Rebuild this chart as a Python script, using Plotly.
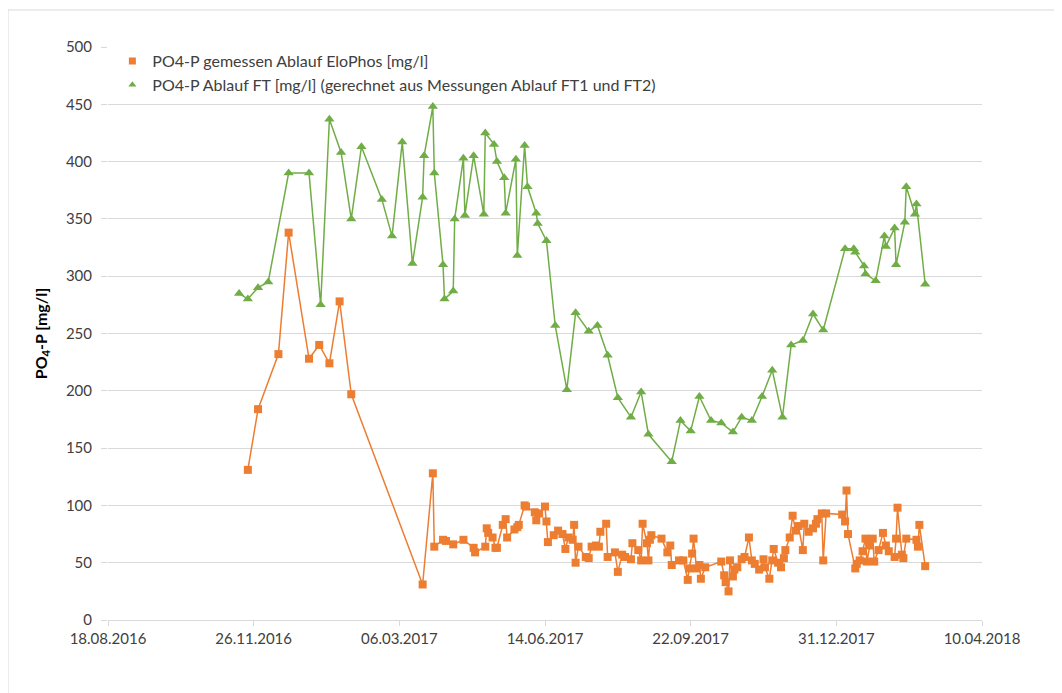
import pandas as pd
import plotly.graph_objects as go

START = "2016-08-18"

# Days since 18.08.2016 and measured values
elophos_days = [96, 103, 117, 124, 138, 145, 152, 159, 167, 216, 223, 224, 230, 232, 237, 244,
                251, 252, 259, 260, 261, 264, 266, 267, 271, 273, 274, 279, 281, 282, 286, 287,
                293, 294, 296, 300, 301, 302, 306, 309, 312, 314, 316, 319, 320, 321, 323, 328,
                330, 332, 335, 337, 338, 342, 343, 348, 350, 353, 355, 359, 360, 364, 366, 367,
                370, 371, 372, 373, 380, 384, 386, 387, 392, 395, 398, 399, 401, 402, 404, 406,
                407, 410, 421, 423, 424, 426, 427, 429, 430, 432, 435, 437, 440, 442, 444, 447,
                450, 451, 454, 456, 457, 460, 462, 464, 465, 468, 470, 472, 474, 477, 478, 481,
                484, 486, 487, 490, 491, 493, 504, 506, 507, 508, 513, 514, 516, 518, 520, 521,
                523, 525, 526, 529, 532, 534, 536, 540, 541, 542, 545, 546, 548, 555, 556, 557, 561]
elophos_vals = [131, 184, 232, 338, 228, 240, 224, 278, 197, 31, 128, 64, 70, 69, 66, 70,
                63, 59, 64, 80, 76, 72, 63, 63, 83, 88, 72, 79, 81, 83, 100, 99,
                94, 87, 93, 99, 86, 68, 74, 78, 75, 62, 72, 70, 83, 50, 64, 55,
                54, 64, 65, 64, 77, 84, 55, 59, 42, 57, 55, 53, 67, 61, 52, 84,
                67, 52, 70, 74, 71, 59, 65, 48, 52, 52, 35, 45, 58, 71, 45, 48,
                36, 46, 51, 39, 33, 25, 52, 38, 44, 46, 53, 55, 72, 52, 49, 44,
                53, 46, 36, 52, 62, 50, 46, 54, 61, 72, 91, 78, 82, 61, 84, 77,
                80, 84, 88, 93, 52, 93, 92, 86, 113, 75, 45, 49, 52, 60, 71, 51,
                65, 71, 51, 61, 76, 65, 60, 55, 71, 98, 57, 54, 71, 70, 64, 83, 47]

ft_days = [90, 96, 103, 110, 124, 138, 146, 152, 160, 167, 174, 188, 195, 202, 209, 216,
           217, 223, 224, 230, 231, 237, 238, 244, 245, 251, 258, 259, 265, 267, 272, 273,
           280, 281, 286, 288, 294, 295, 301, 307, 315, 321, 330, 336, 343, 350, 359, 366,
           371, 387, 393, 400, 406, 414, 421, 429, 435, 442, 449, 456, 463, 469, 477, 484,
           491, 506, 512, 513, 519, 520, 527, 533, 534, 540, 541, 547, 548, 554, 555, 561]
ft_vals = [285, 280, 290, 295, 390, 390, 275, 437, 408, 350, 413, 367, 335, 417, 311, 369,
           405, 448, 390, 310, 280, 287, 350, 403, 353, 405, 354, 425, 415, 400, 386, 355,
           402, 318, 414, 378, 355, 346, 331, 257, 201, 268, 252, 257, 231, 194, 177, 199,
           162, 138, 174, 165, 195, 174, 172, 164, 177, 174, 195, 218, 177, 240, 244, 267,
           253, 324, 324, 321, 309, 302, 296, 335, 326, 342, 310, 347, 378, 354, 363, 293]

tick_dates = ["2016-08-18", "2016-11-26", "2017-03-06", "2017-06-14",
              "2017-09-22", "2017-12-31", "2018-04-10"]

name_elo = "PO4-P gemessen Ablauf EloPhos [mg/l]"
name_ft = "PO4-P Ablauf FT [mg/l] (gerechnet aus Messungen Ablauf FT1 und FT2)"

ORANGE = "#ED7D31"
GREEN = "#70AD47"

start = pd.Timestamp(START)
elo_x = start + pd.to_timedelta(elophos_days, unit="D")
ft_x = start + pd.to_timedelta(ft_days, unit="D")

fig = go.Figure()
fig.add_trace(go.Scatter(x=elo_x, y=elophos_vals, mode="lines+markers", showlegend=False,
                         line=dict(color=ORANGE, width=1.5),
                         marker=dict(symbol="square", size=8, color=ORANGE)))
fig.add_trace(go.Scatter(x=ft_x, y=ft_vals, mode="lines+markers", showlegend=False,
                         line=dict(color=GREEN, width=1.5),
                         marker=dict(symbol="triangle-up", size=9, color=GREEN)))
# legend entries (markers only, as in the original)
fig.add_trace(go.Scatter(x=[None], y=[None], mode="markers", name=name_elo,
                         marker=dict(symbol="square", size=7, color=ORANGE)))
fig.add_trace(go.Scatter(x=[None], y=[None], mode="markers", name=name_ft,
                         marker=dict(symbol="triangle-up", size=7, color=GREEN)))

FONT = "Lato, 'Open Sans', sans-serif"
fig.update_layout(
    width=1054, height=685,
    paper_bgcolor="white", plot_bgcolor="white",
    margin=dict(l=100, r=80, t=39, b=73),
    font=dict(family=FONT, size=15, color="#404040"),
    legend=dict(x=0.005, y=1.005, xanchor="left", yanchor="top",
                bgcolor="rgba(0,0,0,0)", font=dict(size=16, color="#404040"),
                itemwidth=30, tracegroupgap=0),
    xaxis=dict(type="date", range=[tick_dates[0], tick_dates[-1]],
               tickvals=tick_dates, tickformat="%d.%m.%Y",
               showgrid=False, showline=True, linecolor="#d9d9d9", linewidth=1,
               ticks="outside", ticklen=5, tickcolor="#d9d9d9", ticklabelstandoff=0,
               tickfont=dict(size=15, color="#404040"), zeroline=False),
    yaxis=dict(range=[0, 500], dtick=50, showgrid=True, gridcolor="#d9d9d9", gridwidth=1,
               showline=False, zeroline=False, ticks="outside", ticklen=6, tickcolor="#d9d9d9",
               ticklabelstandoff=6,
               tickfont=dict(size=15, color="#404040"),
               title=dict(text="<b>PO<sub>4</sub>-P [mg/l]</b>", standoff=14,
                          font=dict(size=16, color="#000000"))),
    shapes=[dict(type="rect", xref="paper", yref="paper",
                 x0=-0.1144, x1=1.2, y0=-0.2, y1=1.0646,
                 line=dict(color="#d9d9d9", width=1), fillcolor="rgba(0,0,0,0)", layer="below")],
)

fig.write_html("out.html")
